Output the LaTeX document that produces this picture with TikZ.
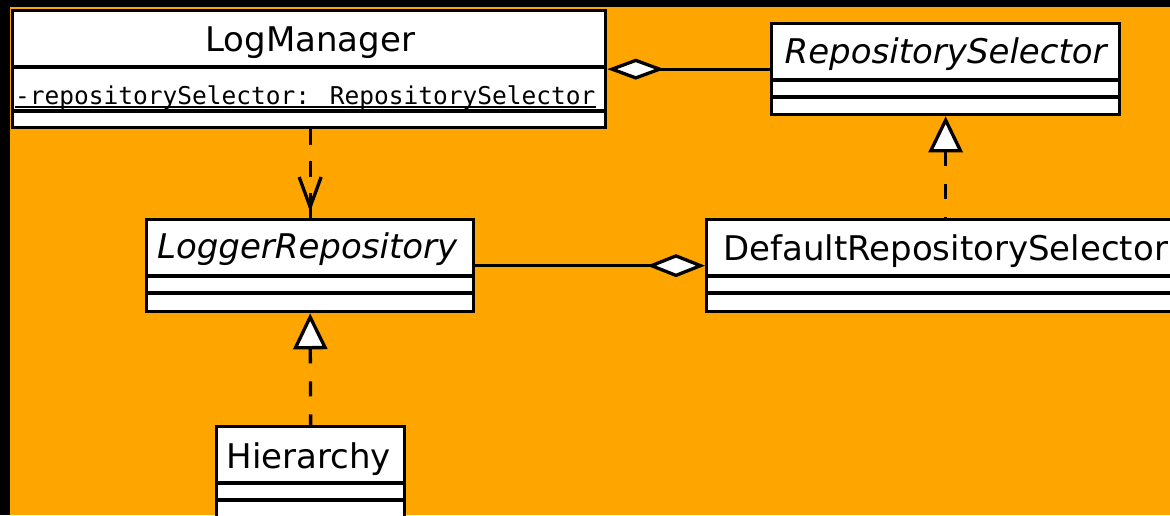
\documentclass[tikz,border=0pt]{standalone}
\usepackage{fontspec}
\setmainfont{DejaVu Sans}
\newfontfamily\attrfont{DejaVu Sans Mono}
\usetikzlibrary{arrows.meta,calc}
\definecolor{canvas}{HTML}{FFA500}
% horizontal compartment rule inside a class box, #2 points below its top edge
\newcommand\umlrule[2]{\draw[divider] ($(#1.north west)+(0,#2)$) -- ($(#1.north east)+(0,#2)$);}
\begin{document}
\begin{tikzpicture}[x=1pt,y=-1pt,
  classbox/.style={draw=black, line width=3.3pt, fill=white, rectangle, inner sep=0pt, anchor=north west},
  title/.style={font=\fontsize{34}{40}\selectfont, anchor=base, inner sep=0pt},
  abstitle/.style={font=\fontsize{34}{40}\selectfont\itshape, anchor=base, inner sep=0pt},
  divider/.style={line width=3.3pt},
  aggregation/.style={line width=3.3pt},
  realization/.style={line width=3.3pt, dash pattern=on 15pt off 18pt},
  dependency/.style={line width=3.3pt, dash pattern=on 16pt off 16pt},
  openhead/.style={line width=3.3pt, line join=miter}]
\useasboundingbox (0,0) rectangle (1170,515);
\fill[black] (0,0) rectangle (1170,515);
\fill[canvas] (10,7) rectangle (1170,515);

% class boxes
\node[classbox, minimum width=593pt, minimum height=117pt] (lm) at (11,9) {};
\node[classbox, minimum width=348pt, minimum height=91pt] (rs) at (770,22) {};
\node[classbox, minimum width=327pt, minimum height=92pt] (lr) at (145,218) {};
\node[classbox, minimum width=478pt, minimum height=92pt] (drs) at (705,218) {};
\node[classbox, minimum width=188pt, minimum height=100pt] (hier) at (215,425) {};

% compartments
\umlrule{lm}{58}\umlrule{lm}{102}
\umlrule{rs}{58}\umlrule{rs}{75}
\umlrule{lr}{58}\umlrule{lr}{75}
\umlrule{drs}{58}\umlrule{drs}{75}
\umlrule{hier}{58}\umlrule{hier}{75}

% class names
\node[title] (lmname) at ($(lm.north)+(1,42)$) {LogManager};
\node[abstitle] (rsname) at ($(rs.north)+(0,41)$) {RepositorySelector};
\node[abstitle] (lrname) at ($(lr.north)+(-3,40)$) {LoggerRepository};
\node[title] (drsname) at ($(drs.north)+(0,42)$) {DefaultRepositorySelector};
\node[title] (hiername) at ($(hier.north)+(-2,43)$) {Hierarchy};

% static attribute
\node[anchor=base west, inner sep=0pt, font=\attrfont\fontsize{24.5}{28}\selectfont] (attr)
  at ($(lm.north west)+(4,95)$) {-repositorySelector: RepositorySelector};
\draw[line width=2pt] ($(attr.base west)+(0,2.5)$) -- ($(attr.base east)+(0,2.5)$);

% relations
\draw[aggregation, {Diamond[fill=white,length=57pt,width=21pt]}-] (lm.east) -- (rs.west);
\draw[aggregation, -{Diamond[fill=white,length=58pt,width=23pt]}] (lr.east) -- (lr.east -| drs.west);
\draw[dependency] (lm.south -| lr.north) -- (lr.north);
\draw[openhead] ($(lr.north)+(-11,-41)$) -- ($(lr.north)+(0,-11)$) -- ($(lr.north)+(11,-41)$);
\draw[openhead] ($(lr.north)+(0,-11)$) -- (lr.north);
\draw[realization, {Triangle[fill=white,length=36pt,width=34pt]}-] (rs.south) -- (drs.north);
\draw[realization, {Triangle[fill=white,length=36pt,width=34pt]}-] (lr.south) -- (hier.north);
\end{tikzpicture}
\end{document}
